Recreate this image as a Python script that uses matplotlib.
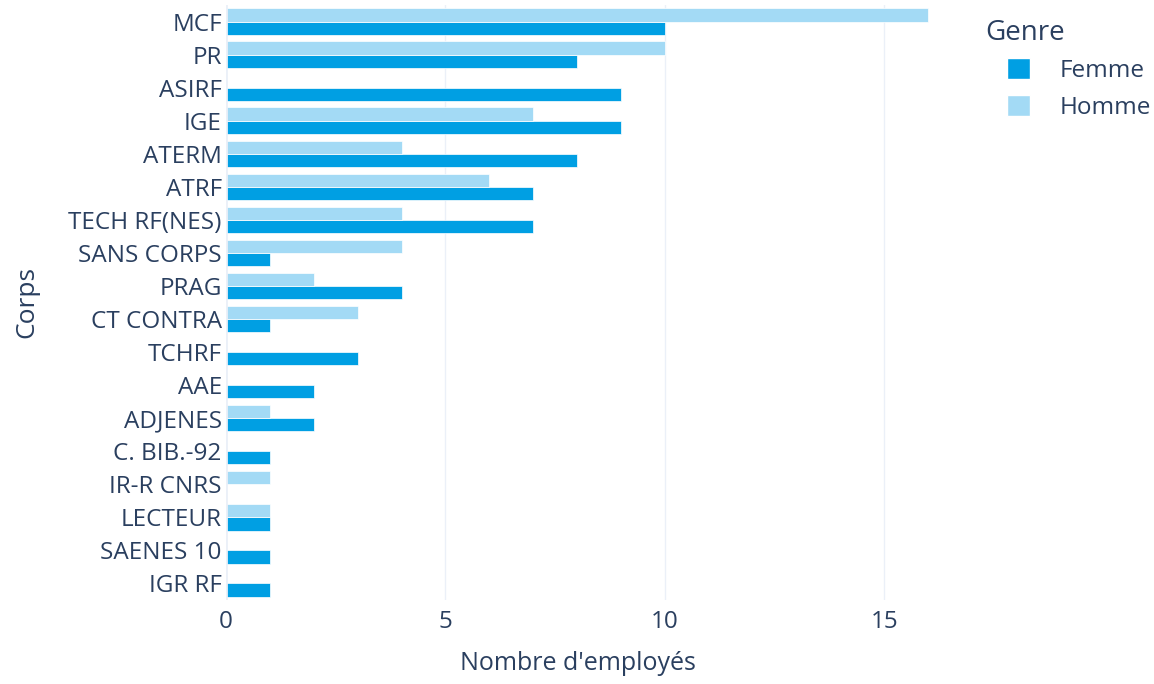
import numpy as np
import matplotlib
matplotlib.use("Agg")
import matplotlib.pyplot as plt
from matplotlib.patches import Patch

corps = ["MCF", "PR", "ASIRF", "IGE", "ATERM", "ATRF", "TECH RF(NES)", "SANS CORPS",
         "PRAG", "CT CONTRA", "TCHRF", "AAE", "ADJENES", "C. BIB.-92", "IR-R CNRS",
         "LECTEUR", "SAENES 10", "IGR RF"]
femme = [10, 8, 9, 9, 8, 7, 7, 1, 4, 1, 3, 2, 2, 1, 0, 1, 1, 1]
homme = [16, 10, 0, 7, 4, 6, 4, 4, 2, 3, 0, 0, 1, 0, 1, 1, 0, 0]

c_femme = "#009fe3"
c_homme = "#a3daf5"
txt = "#2a3f5f"
grid = "#ebf0f8"

plt.rcParams['font.family'] = ['Open Sans', 'DejaVu Sans']

fig = plt.figure(figsize=(11.54, 6.84), dpi=100)
ax = fig.add_axes([226/1154, 1 - 600/684, (930 - 226)/1154, (600 - 5)/684])

y = np.arange(len(corps))
h = 0.4
ax.barh(y + h/2, femme, height=h, color=c_femme, edgecolor="white", linewidth=0.5, zorder=3)
ax.barh(y - h/2, homme, height=h, color=c_homme, edgecolor="white", linewidth=0.5, zorder=3)

ax.set_xlim(0, 16.04)
ax.set_ylim(len(corps) - 0.5, -0.5)
ax.set_yticks(y)
ax.set_yticklabels(corps)
ax.set_xticks([0, 5, 10, 15])
ax.grid(axis="x", color=grid, linewidth=1, zorder=0)
ax.axvline(0, color=grid, linewidth=2, zorder=4)
for s in ax.spines.values():
    s.set_visible(False)
ax.tick_params(axis="both", length=0, labelsize=17.5, labelcolor=txt)
ax.tick_params(axis="y", pad=3)
ax.tick_params(axis="x", pad=7)

ax.set_xlabel("Nombre d'employés", fontsize=18, color=txt)
ax.set_ylabel("Corps", fontsize=19, color=txt)
ax.xaxis.set_label_coords(0.5, (600 - 663) / 595, transform=ax.transAxes)
ax.yaxis.set_label_coords((27 - 226) / 704, 0.5)
ax.xaxis.label.set_va("center")
ax.yaxis.label.set_va("center")

fig.text(985/1154, 1 - 33/684, "Genre", fontsize=20, color=txt, va="center", ha="left")
handles = [Patch(facecolor=c_femme, edgecolor="white", label="Femme"),
           Patch(facecolor=c_homme, edgecolor="white", label="Homme")]
leg = fig.legend(handles=handles, loc="upper left",
                 bbox_to_anchor=(1007/1154, 1 - 58/684), frameon=False,
                 fontsize=17.5, handlelength=0.95, handleheight=0.95,
                 handletextpad=1.2, labelspacing=0.5, borderaxespad=0, borderpad=0)
for t in leg.get_texts():
    t.set_color(txt)

fig.savefig("out.png", dpi=100)
